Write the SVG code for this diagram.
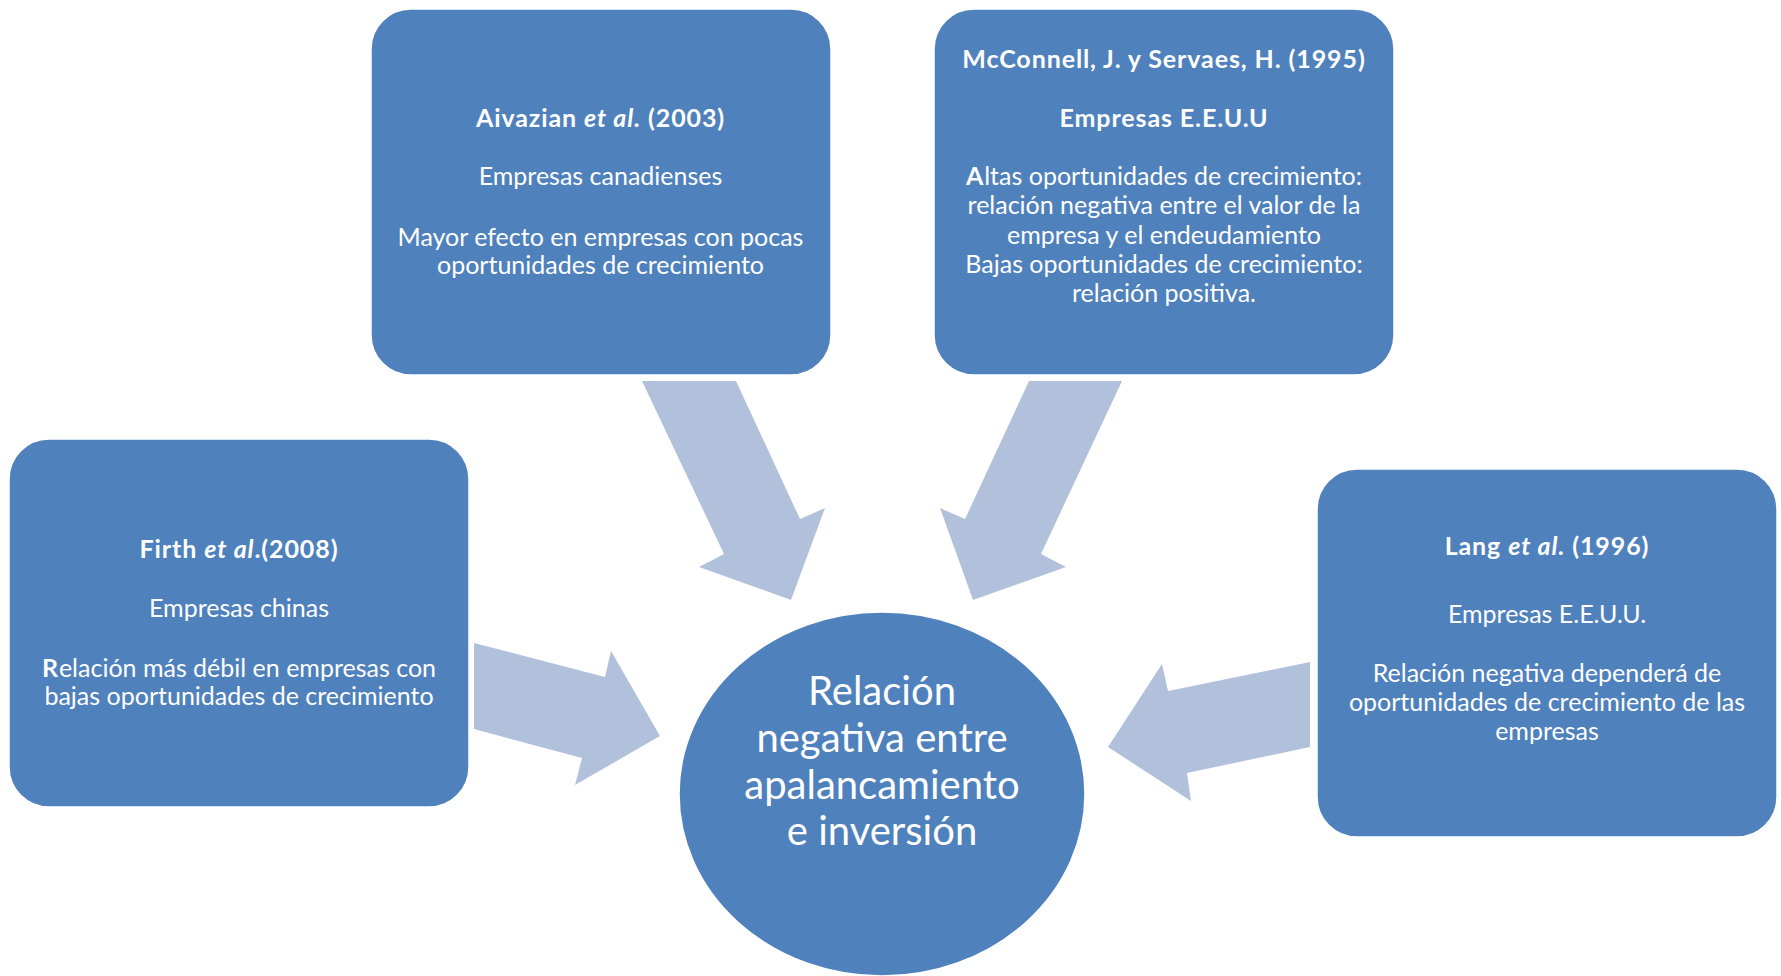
<svg xmlns="http://www.w3.org/2000/svg" width="1781" height="976" viewBox="0 0 1781 976">
<style>
.box{fill:#4F81BD;stroke:#ffffff;stroke-width:1.5}
.arr{fill:#B2C1DB}
.t{font-family:Lato,"Liberation Sans",sans-serif;font-size:25px;fill:#ffffff;text-anchor:middle}
.b{font-weight:bold;letter-spacing:0.9px}
.i{font-style:italic}
.big{font-family:Lato,"Liberation Sans",sans-serif;font-size:40px;fill:#ffffff;text-anchor:middle}
</style>
<rect width="1781" height="976" fill="#ffffff"/>
<g id="connectors">
<polygon class="arr" points="642,381 736,381 800,519 825,508 791,600 699,567 724,554"/>
<polygon class="arr" points="1122,381 1029,381 965,519 940,508 973,600 1066,567 1041,554"/>
<polygon class="arr" points="474,643 605,677 611,651 660,736 575,785 582,758 474,729"/>
<polygon class="arr" points="1310,662 1168,691 1162,664 1108,747 1191,801 1187,773 1310,747"/>
</g>
<g id="aivazian">
<rect class="box" x="371" y="9" width="460" height="366" rx="40"/>
<text class="t" x="600.5" y="127"><tspan class="b">Aivazian </tspan><tspan class="b i">et al.</tspan><tspan class="b"> (2003)</tspan></text>
<text class="t" x="600.5" y="185">Empresas canadienses</text>
<text class="t" x="600.5" y="246">Mayor efecto en empresas con pocas</text>
<text class="t" x="600.5" y="274">oportunidades de crecimiento</text>
</g>
<g id="mcconnell">
<rect class="box" x="934" y="9" width="460" height="366" rx="40"/>
<text class="t b" x="1164" y="68">McConnell, J. y Servaes, H. (1995)</text>
<text class="t b" x="1164" y="127">Empresas E.E.U.U</text>
<text class="t" x="1164" y="185"><tspan class="b">A</tspan>ltas oportunidades de crecimiento:</text>
<text class="t" x="1164" y="214">relación negativa entre el valor de la</text>
<text class="t" x="1164" y="244">empresa y el endeudamiento</text>
<text class="t" x="1164" y="273">Bajas oportunidades de crecimiento:</text>
<text class="t" x="1164" y="302">relación positiva.</text>
</g>
<g id="firth">
<rect class="box" x="9" y="439" width="460" height="368" rx="40"/>
<text class="t" x="239" y="558"><tspan class="b">Firth </tspan><tspan class="b i">et al</tspan><tspan class="b">.(2008)</tspan></text>
<text class="t" x="239" y="617">Empresas chinas</text>
<text class="t" x="239" y="677"><tspan class="b">R</tspan>elación más débil en empresas con</text>
<text class="t" x="239" y="705">bajas oportunidades de crecimiento</text>
</g>
<g id="lang">
<rect class="box" x="1317" y="469" width="460" height="368" rx="40"/>
<text class="t" x="1547" y="555"><tspan class="b">Lang </tspan><tspan class="b i">et al.</tspan><tspan class="b"> (1996)</tspan></text>
<text class="t" x="1547" y="623">Empresas E.E.U.U.</text>
<text class="t" x="1547" y="682">Relación negativa dependerá de</text>
<text class="t" x="1547" y="711">oportunidades de crecimiento de las</text>
<text class="t" x="1547" y="740">empresas</text>
</g>
<g id="center">
<ellipse class="box" cx="882" cy="794" rx="203" ry="182"/>
<text class="big" x="882" y="705">Relación</text>
<text class="big" x="882" y="752">negativa entre</text>
<text class="big" x="882" y="799">apalancamiento</text>
<text class="big" x="882" y="845">e inversión</text>
</g>
</svg>
